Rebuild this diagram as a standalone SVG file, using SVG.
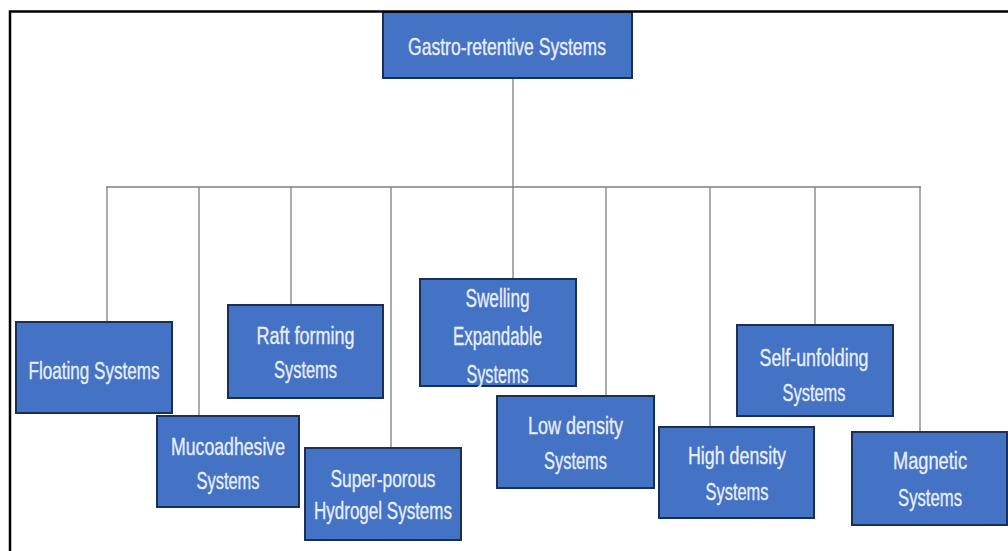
<svg xmlns="http://www.w3.org/2000/svg" width="1008" height="551" viewBox="0 0 1008 551">
<style>
.box{fill:#4472C4;stroke:#1A2F55;stroke-width:2}
.t{font-family:"Liberation Sans Narrow","Liberation Sans",Arial,sans-serif;font-size:23px;fill:#E8EEF8;stroke:#E8EEF8;stroke-width:0.35;text-anchor:middle}
.c{stroke:#808080;stroke-width:1.3;fill:none}
</style>
<rect width="1008" height="551" fill="#FFFFFF"/>
<g id="connectors">
<path class="c" d="M513,78 V187 M106,187 H921"/>
<path class="c" d="M107,187 V322 M199,187 V416 M291,187 V305 M391,187 V448 M513,187 V279 M606,187 V396 M710,187 V427 M815,187 V325 M920,187 V432"/>
</g>
<g id="gastro">
<rect class="box" x="383" y="12" width="249" height="66"/>
<text class="t" x="507" y="55" style="font-size:24px" textLength="198" lengthAdjust="spacingAndGlyphs">Gastro-retentive Systems</text>
</g>
<g id="floating">
<rect class="box" x="16" y="322" width="156" height="91"/>
<text class="t" x="94" y="379" textLength="131" lengthAdjust="spacingAndGlyphs">Floating Systems</text>
</g>
<g id="mucoadhesive">
<rect class="box" x="157" y="416" width="142" height="91"/>
<text class="t" x="228" y="455" textLength="114" lengthAdjust="spacingAndGlyphs">Mucoadhesive</text>
<text class="t" x="228" y="489" textLength="63" lengthAdjust="spacingAndGlyphs">Systems</text>
</g>
<g id="raft">
<rect class="box" x="228" y="305" width="155" height="93"/>
<text class="t" x="305.5" y="344" textLength="98" lengthAdjust="spacingAndGlyphs">Raft forming</text>
<text class="t" x="305.5" y="378" textLength="63" lengthAdjust="spacingAndGlyphs">Systems</text>
</g>
<g id="superporous">
<rect class="box" x="305" y="448" width="156" height="92"/>
<text class="t" x="383" y="487" textLength="105" lengthAdjust="spacingAndGlyphs">Super-porous</text>
<text class="t" x="383" y="519" textLength="138" lengthAdjust="spacingAndGlyphs">Hydrogel Systems</text>
</g>
<g id="swelling">
<rect class="box" x="420" y="279" width="156" height="107"/>
<text class="t" x="497.5" y="307" style="font-size:26px" textLength="64" lengthAdjust="spacingAndGlyphs">Swelling</text>
<text class="t" x="497.5" y="345" style="font-size:26px" textLength="89" lengthAdjust="spacingAndGlyphs">Expandable</text>
<text class="t" x="497.5" y="383" style="font-size:26px" textLength="62" lengthAdjust="spacingAndGlyphs">Systems</text>
</g>
<g id="lowdensity">
<rect class="box" x="497" y="396" width="157" height="92"/>
<text class="t" x="575.5" y="434" textLength="95" lengthAdjust="spacingAndGlyphs">Low density</text>
<text class="t" x="575.5" y="469" textLength="63" lengthAdjust="spacingAndGlyphs">Systems</text>
</g>
<g id="highdensity">
<rect class="box" x="659" y="427" width="155" height="91"/>
<text class="t" x="737" y="464" textLength="98" lengthAdjust="spacingAndGlyphs">High density</text>
<text class="t" x="737" y="500" textLength="63" lengthAdjust="spacingAndGlyphs">Systems</text>
</g>
<g id="selfunfolding">
<rect class="box" x="737" y="325" width="156" height="91"/>
<text class="t" x="814" y="366" textLength="109" lengthAdjust="spacingAndGlyphs">Self-unfolding</text>
<text class="t" x="814" y="401" textLength="63" lengthAdjust="spacingAndGlyphs">Systems</text>
</g>
<g id="magnetic">
<rect class="box" x="852" y="432" width="155" height="93"/>
<text class="t" x="930" y="469" textLength="74" lengthAdjust="spacingAndGlyphs">Magnetic</text>
<text class="t" x="930" y="506" textLength="64" lengthAdjust="spacingAndGlyphs">Systems</text>
</g>
<path d="M10,551 V11.5 H1008" fill="none" stroke="#000000" stroke-width="2.5"/>
</svg>
